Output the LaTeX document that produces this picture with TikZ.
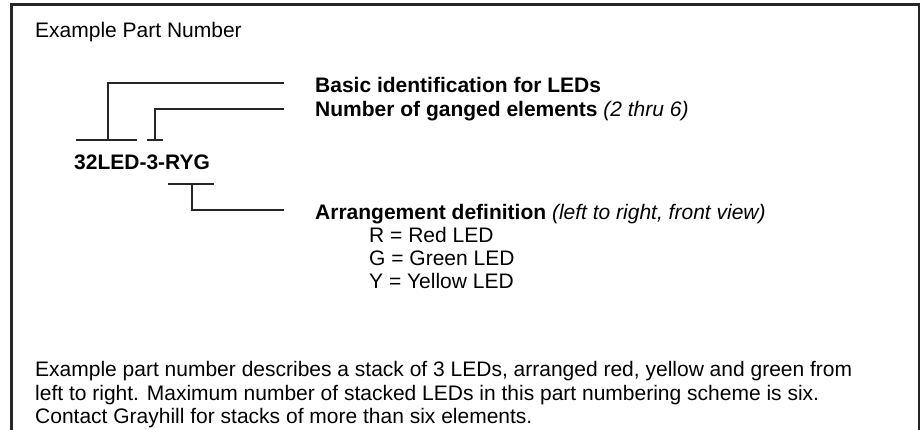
\documentclass[tikz,border=0pt]{standalone}
\usepackage{fontspec}
\setmainfont{Liberation Sans}
\begin{document}
\begin{tikzpicture}[x=1pt,y=-1pt,
  txt/.style={anchor=base west,inner sep=0pt,font=\fontsize{21}{23}\selectfont},
  bold/.style={txt,font=\fontsize{21}{23}\selectfont\bfseries},
  ln/.style={line width=1.3pt,draw=black!85}]
\useasboundingbox (0,0) rectangle (924,430);
\draw[line width=2.2pt,draw=black!85] (11.5,432) -- (11.5,4.5) -- (919,4.5) -- (919,432);
\node[txt] (title) at (35,38) {Example Part Number};
\node[bold] (pn) at (74,170) {32LED-3-RYG};
\node[bold] (basic) at (315,93) {Basic identification for LEDs};
\node[bold] (num) at (315,117) {Number of ganged elements \textmd{\itshape (2 thru 6)}};
\node[bold] (arr) at (315,220) {Arrangement definition \textmd{\itshape (left to right, front view)}};
\node[txt] (r) at (369,243) {R = Red LED};
\node[txt] (g) at (369,266) {G = Green LED};
\node[txt] (y) at (369,289) {Y = Yellow LED};
\node[txt] (d1) at (35,377) {Example part number describes a stack of 3 LEDs, arranged red, yellow and green from};
\node[txt] (d2) at (35,400) {left to right. Maximum number of stacked LEDs in this part numbering scheme is six.};
\node[txt] (d3) at (35,423) {Contact Grayhill for stacks of more than six elements.};
% brackets
\coordinate (b1l) at (76,140); \coordinate (b1r) at (137,140); \coordinate (b1m) at (108,140);
\coordinate (b2l) at (147,140); \coordinate (b2r) at (163,140); \coordinate (b2m) at (155,140);
\coordinate (b3l) at (168,184); \coordinate (b3r) at (214,184); \coordinate (b3m) at (192,184);
\coordinate (e1) at (284,83);
\coordinate (e2) at (284,109);
\coordinate (e3) at (284,210);
\draw[ln] (b1l) -- (b1r);
\draw[ln] (b2l) -- (b2r);
\draw[ln] (b3l) -- (b3r);
\draw[ln] (b1m) |- (e1);
\draw[ln] (b2m) |- (e2);
\draw[ln] (b3m) |- (e3);
\end{tikzpicture}
\end{document}
